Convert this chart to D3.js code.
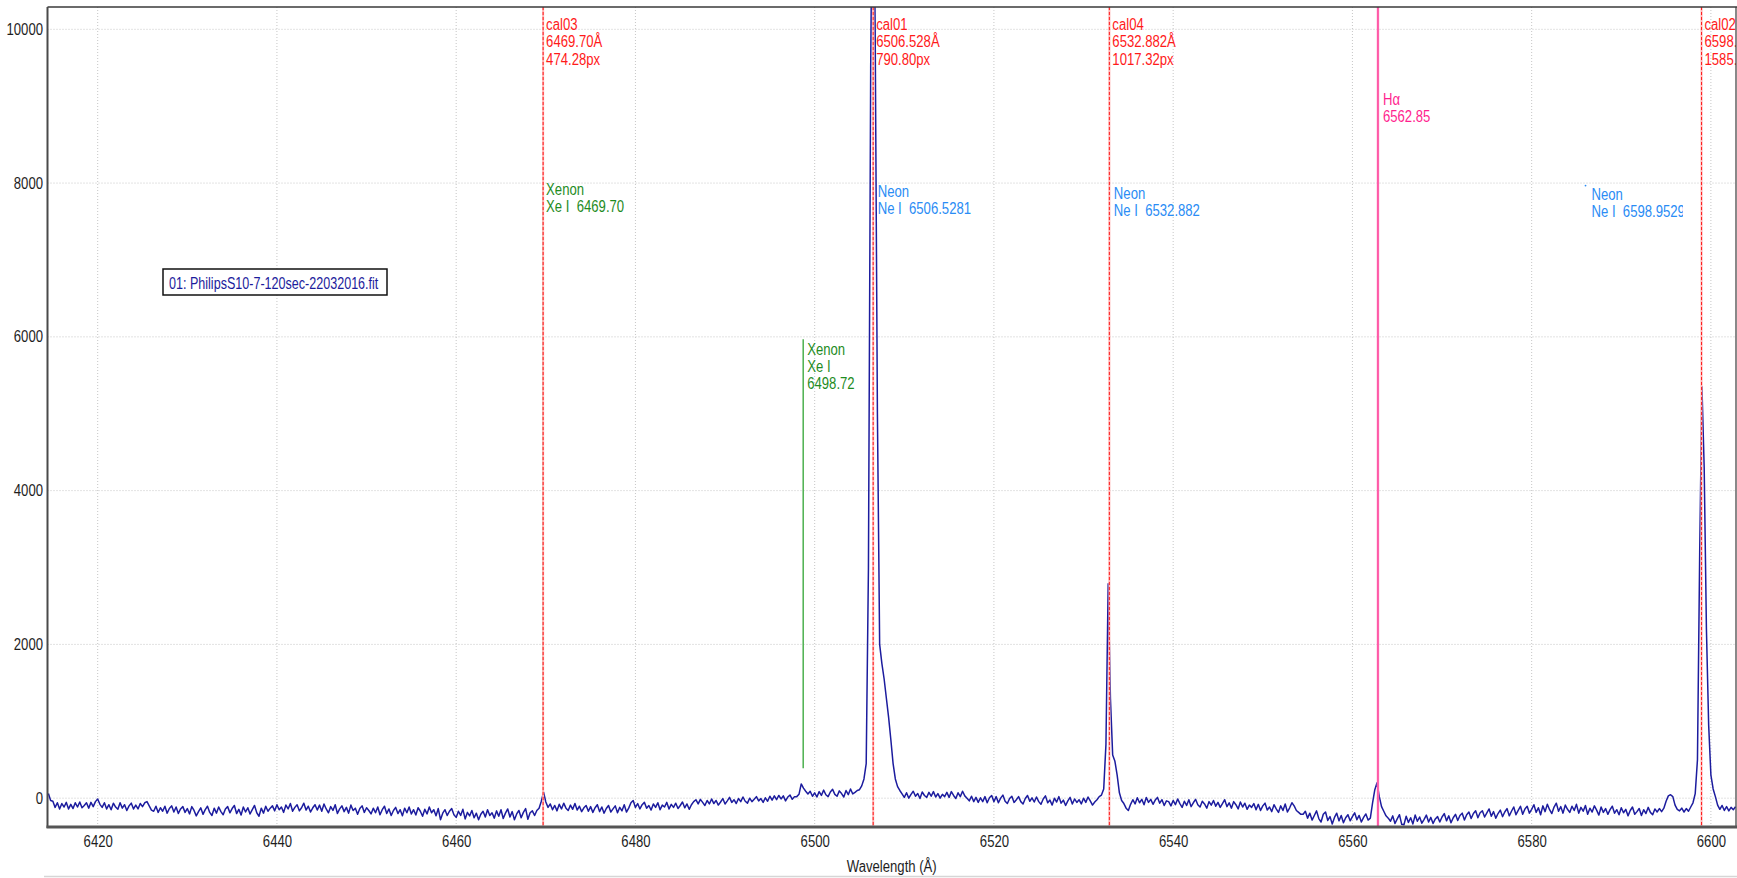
<!DOCTYPE html>
<html>
<head>
<meta charset="utf-8">
<script src="https://cdn.jsdelivr.net/npm/d3@7"></script>
<style>
  body { margin: 0; padding: 0; background: #fff; }
  svg text { font-family: "Liberation Sans", Arial, sans-serif; font-size: 16px; white-space: pre; }
</style>
</head>
<body>
<div id="main"></div>
<script>
// spectrum, one value every 0.25 Å starting at 6414.5 Å
const startWavelength = 6414.5;
const sampleStep = 0.25;
const intensity = [
  60, -30, -40, -120, -60, -140, -70, -115, -55, -140, -80, -135, -60, -115, -50, -125, -95, -60, -130, -55,
  -110, -45, -10, -80, -120, -60, -140, -85, -150, -65, -115, -145, -60, -130, -85, -160, -100, -65, -140, -90,
  -140, -70, -110, -60, -45, -100, -155, -170, -105, -185, -125, -170, -105, -195, -135, -100, -180, -115, -200, -140,
  -110, -185, -135, -205, -110, -160, -230, -175, -125, -210, -150, -105, -185, -225, -130, -195, -115, -175, -215, -140,
  -110, -190, -135, -95, -200, -145, -220, -115, -180, -125, -205, -150, -95, -190, -235, -130, -195, -105, -170, -130,
  -100, -165, -85, -150, -115, -185, -90, -140, -70, -170, -120, -85, -165, -125, -65, -155, -105, -180, -125, -85,
  -155, -90, -170, -75, -140, -190, -110, -160, -85, -200, -140, -100, -175, -120, -195, -90, -160, -130, -210, -135,
  -100, -185, -125, -160, -205, -130, -190, -115, -215, -150, -105, -200, -140, -225, -160, -120, -200, -150, -230, -130,
  -190, -115, -205, -150, -220, -125, -170, -235, -145, -205, -115, -190, -150, -230, -135, -280, -195, -150, -225, -170,
  -135, -215, -250, -170, -225, -145, -270, -185, -230, -160, -255, -195, -280, -210, -170, -245, -150, -225, -190, -260,
  -165, -235, -150, -265, -195, -140, -245, -175, -280, -205, -160, -255, -185, -135, -275, -190, -165, -225, -160, -130,
  -40, 78, -50, -120, -75, -150, -95, -165, -80, -140, -65, -130, -160, -90, -145, -70, -155, -105, -175, -125,
  -95, -170, -110, -185, -125, -85, -175, -115, -195, -135, -95, -180, -140, -100, -190, -120, -165, -85, -180, -130,
  -60, -30, -120, -70, -140, -85, -55, -130, -95, -155, -75, -120, -60, -150, -90, -115, -55, -140, -80, -120,
  -65, -135, -95, -50, -125, -75, -145, -85, -45, -20, -75, -15, -55, -95, -30, -75, -10, -70, -30, -90,
  -50, -5, -75, -35, 10, -55, -20, -70, -5, -45, 15, -40, -65, 0, -45, -15, 20, -35, -5, -55,
  5, -40, 25, -25, 30, -20, 35, -10, 30, -35, 15, 40, -15, 20, 20, 50, 185, 130, 90, 55,
  90, 25, 70, 15, 85, 35, 105, 45, 20, 80, 115, 50, 25, 95, 60, 15, 100, 45, 120, 55,
  75, 100, 110, 160, 250, 450, 3000, 9500, 13000, 10000, 5000, 2000, 1750, 1550, 1300, 1050, 760, 450, 250, 150,
  100, 55, 10, 70, 0, 50, 90, 25, 60, -5, 80, 35, 10, 75, 25, 85, 15, 60, 0, 50,
  20, 75, 10, 85, 35, -5, 70, 20, 90, 30, 0, -35, 25, -45, 10, -55, 5, -45, 20, -60,
  5, 35, -45, 20, -60, 0, 40, -40, -70, -5, 25, -55, -20, 20, -45, -75, -5, 35, -40, 5,
  -50, 15, -45, -80, -10, 30, -60, -25, -90, 0, -50, 20, -65, -25, -95, -35, 10, -75, -10, -55,
  -20, -75, 0, -55, 15, -35, -90, -50, -20, 20, 40, 120, 700, 2790, 1300, 560, 480, 300, 70, -30,
  -70, -130, -160, -80, -20, -75, 5, -60, -15, -85, 10, -55, -15, -80, -25, 10, -65, -20, -95, -35,
  -45, -100, -30, -85, -10, -70, -120, -40, -95, -20, -110, -60, -15, -85, -115, -40, -75, -130, -45, -90,
  -30, -105, -55, -120, -70, -20, -110, -60, -130, -45, -85, -140, -50, -115, -65, -145, -90, -120, -70, -150,
  -80, -160, -100, -65, -155, -115, -175, -85, -140, -185, -100, -160, -75, -180, -125, -60, -100, -160, -185, -210,
  -210, -170, -260, -195, -285, -225, -165, -265, -310, -210, -180, -290, -240, -335, -250, -195, -295, -225, -320, -255,
  -215, -295, -240, -190, -280, -225, -310, -250, -205, -285, -260, -60, 110, 200, 20, -110, -170, -230, -260, -300,
  -230, -330, -270, -215, -340, -345, -235, -315, -255, -335, -220, -300, -245, -325, -275, -220, -310, -250, -330, -270,
  -240, -310, -245, -200, -295, -230, -320, -255, -210, -290, -225, -195, -285, -215, -180, -265, -200, -165, -255, -190,
  -165, -245, -190, -140, -235, -175, -260, -200, -155, -240, -180, -135, -230, -170, -115, -215, -160, -105, -210, -140,
  -105, -195, -145, -85, -185, -125, -215, -100, -175, -80, -150, -200, -115, -65, -170, -110, -195, -90, -145, -185,
  -105, -160, -80, -195, -120, -170, -95, -210, -130, -180, -100, -155, -220, -115, -185, -135, -210, -150, -105, -195,
  -150, -215, -125, -190, -145, -230, -160, -115, -210, -175, -135, -225, -150, -200, -120, -185, -215, -140, -180, -135,
  -175, -130, -40, 30, 45, 20, -90, -145, -165, -130, -180, -135, -170, -115, -60, 60, 500, 3200, 5350, 4300,
  2200, 950, 300, 120, 20, -90, -145, -95, -160, -110, -165, -120, -150, -110
];

const xTicks = [6420, 6440, 6460, 6480, 6500, 6520, 6540, 6560, 6580, 6600];
const yTicks = [0, 2000, 4000, 6000, 8000, 10000];

// calibration lines
const calNames = ['cal03', 'cal01', 'cal04', 'cal02'];
const calWavelengths = [6469.70, 6506.528, 6532.882, 6598.953];
const calAngstrom = ['6469.70Å', '6506.528Å', '6532.882Å', '6598.953Å'];
const calPixels = ['474.28px', '790.80px', '1017.32px', '1585.21px'];

// element lines from the line list
const elemNames = ['Xenon', 'Xenon', 'Neon', 'Neon', 'Neon'];
const elemWavelengths = [6469.70, 6498.72, 6506.5281, 6532.882, 6598.9529];
const elemLabels = [['Xe I  6469.70'], ['Xe I', '6498.72'], ['Ne I  6506.5281'], ['Ne I  6532.882'], ['Ne I  6598.9529']];
const elemLevels = [8000, 6000, 8000, 8000, 8000];

const halphaName = 'Hα';
const halphaWavelength = 6562.85;

const legendText = '01: PhilipsS10-7-120sec-22032016.fit';
const xTitle = 'Wavelength (Å)';

const WIDTH = 1737, HEIGHT = 878;
const PLOT = { left: 47.5, right: 1736, top: 7, bottom: 827 };
const NARROW = 0.82;

const scaleX = d3.scaleLinear().domain([6414.4, 6602.8]).range([PLOT.left, PLOT.right]);
const scaleY = d3.scaleLinear().domain([-375, 10290]).range([PLOT.bottom, PLOT.top]);

const spectrum = intensity.map((v, i) => ({ wl: startWavelength + i * sampleStep, val: v }));

// narrow multi-line label
const addLabel = (parent, x, y, lines, fill, lineHeight, sx, anchor) => {
    const g = parent.append('g').attr('transform', `translate(${x},${y}) scale(${sx || NARROW},1)`);
    const t = g.append('text').attr('fill', fill).attr('text-anchor', anchor || 'start');
    lines.forEach((s, k) => {
        t.append('tspan').attr('x', 0).attr('y', k * lineHeight).text(s);
    });
    return g;
};

const canvas = d3.select('#main').append('svg')
    .attr('width', WIDTH)
    .attr('height', HEIGHT)
    .attr('style', 'display: block');

const defs = canvas.append('defs');
defs.append('clipPath').attr('id', 'plot-clip').append('rect')
    .attr('x', PLOT.left).attr('y', PLOT.top)
    .attr('width', PLOT.right - PLOT.left).attr('height', PLOT.bottom - PLOT.top);
defs.append('clipPath').attr('id', 'ne-clip').append('rect')
    .attr('x', 0).attr('y', 0).attr('width', 1683).attr('height', HEIGHT);

// grid
const grid = canvas.append('g').attr('stroke', '#c6c6c6').attr('stroke-dasharray', '1,2');
grid.selectAll('.gx').data(xTicks).enter().append('line')
    .attr('x1', d => scaleX(d)).attr('x2', d => scaleX(d))
    .attr('y1', PLOT.top).attr('y2', PLOT.bottom);
grid.selectAll('.gy').data(yTicks).enter().append('line')
    .attr('x1', PLOT.left).attr('x2', PLOT.right)
    .attr('y1', d => scaleY(d)).attr('y2', d => scaleY(d));

const plot = canvas.append('g').attr('clip-path', 'url(#plot-clip)');

// spectrum
const line = d3.line().x(d => scaleX(d.wl)).y(d => scaleY(d.val));
plot.append('path')
    .datum(spectrum)
    .attr('d', line)
    .attr('fill', 'none')
    .attr('stroke', '#1c1c9e')
    .attr('stroke-width', 1.5)
    .attr('stroke-linejoin', 'round');

// element lines (green for xenon)
elemWavelengths.forEach((w, i) => {
    if (elemNames[i] !== 'Xenon') return;
    plot.append('line')
        .attr('x1', scaleX(w)).attr('x2', scaleX(w))
        .attr('y1', scaleY(elemLevels[i]) + 2.5).attr('y2', scaleY(390))
        .attr('stroke', '#4cb04f').attr('stroke-width', 1.5);
});

// calibration lines
calWavelengths.forEach((w) => {
    plot.append('line')
        .attr('x1', scaleX(w)).attr('x2', scaleX(w))
        .attr('y1', PLOT.top).attr('y2', PLOT.bottom)
        .attr('stroke', '#ffb0b0').attr('stroke-width', 2);
    plot.append('line')
        .attr('x1', scaleX(w)).attr('x2', scaleX(w))
        .attr('y1', PLOT.top).attr('y2', PLOT.bottom)
        .attr('stroke', '#ff1e1e').attr('stroke-width', 1)
        .attr('stroke-dasharray', '3,2');
});

// H alpha
plot.append('line')
    .attr('x1', scaleX(halphaWavelength)).attr('x2', scaleX(halphaWavelength))
    .attr('y1', PLOT.top).attr('y2', PLOT.bottom)
    .attr('stroke', '#ff9ccb').attr('stroke-width', 2.5);
plot.append('line')
    .attr('x1', scaleX(halphaWavelength)).attr('x2', scaleX(halphaWavelength))
    .attr('y1', PLOT.top).attr('y2', PLOT.bottom)
    .attr('stroke', '#ff3d98').attr('stroke-width', 1.3);

// calibration labels
calWavelengths.forEach((w, i) => {
    addLabel(plot, scaleX(w) + 3, PLOT.top + 23, [calNames[i], calAngstrom[i], calPixels[i]], '#ff1a1a', 17.5);
});

// element labels
const elemDy = [12, 18.5, 14, 15.5, 17];
const elemDx = [3, 4, 4.5, 4.5, -110];
elemWavelengths.forEach((w, i) => {
    const isXe = elemNames[i] === 'Xenon';
    const holder = i === 4 ? plot.append('g').attr('clip-path', 'url(#ne-clip)') : plot;
    addLabel(holder, scaleX(w) + elemDx[i], scaleY(elemLevels[i]) + elemDy[i],
        [elemNames[i]].concat(elemLabels[i]), isXe ? '#1f8c1f' : '#2a8cf5', 17);
});
plot.append('circle')
    .attr('cx', scaleX(elemWavelengths[4]) + elemDx[4] - 6).attr('cy', scaleY(elemLevels[4]) + 2.5)
    .attr('r', 0.9).attr('fill', '#2a8cf5');

// H alpha label
addLabel(plot, scaleX(halphaWavelength) + 5, 105, [halphaName, halphaWavelength.toFixed(2)], '#ff1f8f', 17.5);

// axes
const axisX = d3.axisBottom(scaleX).tickValues(xTicks).tickSize(0).tickPadding(9).tickFormat(d3.format('d'));
const axisY = d3.axisLeft(scaleY).tickValues(yTicks).tickSize(0).tickPadding(5.5).tickFormat(d3.format('d'));
const gx = canvas.append('g').attr('transform', `translate(0, ${PLOT.bottom})`).call(axisX);
const gy = canvas.append('g').attr('transform', `translate(${PLOT.left}, 0)`).call(axisY);
[gx, gy].forEach(g => {
    g.select('.domain').remove();
    g.selectAll('text').attr('fill', '#1e1e1e').attr('transform', `scale(${NARROW},1)`);
});

// frame
canvas.append('line').attr('x1', PLOT.left).attr('x2', WIDTH).attr('y1', PLOT.top).attr('y2', PLOT.top)
    .attr('stroke', '#3a3a3a').attr('stroke-width', 1.5);
canvas.append('line').attr('x1', PLOT.right).attr('x2', PLOT.right).attr('y1', PLOT.top).attr('y2', PLOT.bottom)
    .attr('stroke', '#3a3a3a').attr('stroke-width', 1.2);
canvas.append('line').attr('x1', PLOT.left).attr('x2', PLOT.left).attr('y1', PLOT.top).attr('y2', PLOT.bottom + 1)
    .attr('stroke', '#4a4a4a').attr('stroke-width', 2);
canvas.append('line').attr('x1', PLOT.left - 1).attr('x2', WIDTH).attr('y1', PLOT.bottom).attr('y2', PLOT.bottom)
    .attr('stroke', '#555').attr('stroke-width', 3);

addLabel(canvas, (PLOT.left + PLOT.right) / 2, 872, [xTitle], '#1e1e1e', 17, NARROW, 'middle');
canvas.append('line').attr('x1', 44).attr('x2', WIDTH).attr('y1', 876.5).attr('y2', 876.5)
    .attr('stroke', '#d6d6d6').attr('stroke-width', 1.5);

// legend
canvas.append('rect')
    .attr('x', 163).attr('y', 269).attr('width', 224).attr('height', 26)
    .attr('fill', '#fff').attr('stroke', '#111').attr('stroke-width', 1.5);
addLabel(canvas, 169, 288.5, [legendText], '#1c1c9c', 17, 0.785);
</script>
</body>
</html>
